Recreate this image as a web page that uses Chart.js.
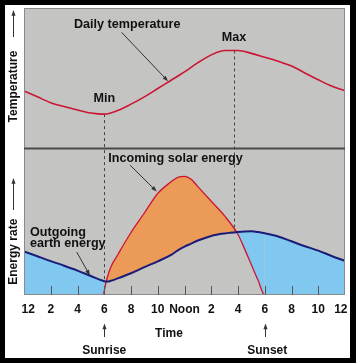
<!DOCTYPE html>
<html><head><meta charset="utf-8">
<script src="https://cdn.jsdelivr.net/npm/chart.js@4.4.1/dist/chart.umd.min.js"></script>
<style>html,body{margin:0;padding:0;background:#fff;}canvas{display:block;}</style>
</head><body>
<canvas id="c" width="356" height="363"></canvas>
<script>
// ---- data ----
const tickHours  = [0, 2, 4, 6, 8, 10, 12, 14, 16, 18, 20, 22, 24];
const tickLabels = ['12','2','4','6','8','10','Noon','2','4','6','8','10','12'];

const tempHours  = [0, 1, 2, 3, 4, 5, 6, 7, 8, 9, 10, 11, 12, 13, 14, 15, 16, 17, 18, 19, 20, 21, 22, 23, 24];
const tempValues = [59, 53, 47, 43, 39.5, 36.5, 35.3, 39, 45.5, 53, 61.5, 70, 78.5, 88, 96, 100.5, 100.5, 97.5, 93.5, 89.5, 84.5, 77.5, 70.5, 64, 59.3];

const energyHours = [0, 1, 2, 3, 4, 5, 5.9, 6.1, 6.25, 6.5, 7, 8, 9, 10, 11, 11.5, 12, 12.5, 13, 14, 15, 16, 16.5, 17, 17.5, 18, 19, 20, 21, 22, 23, 24];
const solarEnergy = [0, 0, 0, 0, 0, 0, 0, 11, 19, 29, 41, 64, 84, 104, 116, 120.5, 121.5, 118.5, 111, 96, 81, 62, 47, 31, 15, 0, 0, 0, 0, 0, 0, 0];
const earthEnergy = [44.7, 39.7, 34.7, 30, 25, 19.5, 14.6, 13.9, 13.8, 14.6, 17, 22.3, 28.5, 34.5, 41, 45.8, 49.5, 52.6, 55.8, 60.5, 63, 64.5, 65, 65.2, 64.5, 63.2, 60, 55, 50, 45.5, 40, 35];

const sunriseHour = 6, sunsetHour = 18, minTempHour = 6, maxTempHour = 15.7;
const sunriseEarth = 14, crossEnergy = 65;

// ---- styles ----
const RED = '#cc1533', NAVY = '#1b1b78', ORANGE = '#ec9a58', BLUE = '#80c8f0', PANEL = '#c4c4c3';
const FAMILY = '"Liberation Sans", Arial, Helvetica, sans-serif';
const FONT = 'bold 12px ' + FAMILY;
const LABEL_FONT = 'bold 12.6px ' + FAMILY;

function arrow(ctx, x1, y1, x2, y2, head) {
  head = head || 6;
  const a = Math.atan2(y2 - y1, x2 - x1);
  ctx.save();
  ctx.strokeStyle = '#333'; ctx.fillStyle = '#333'; ctx.lineWidth = 1;
  ctx.beginPath(); ctx.moveTo(x1, y1); ctx.lineTo(x2 - Math.cos(a) * head * 0.8, y2 - Math.sin(a) * head * 0.8); ctx.stroke();
  ctx.beginPath();
  ctx.moveTo(x2, y2);
  ctx.lineTo(x2 - head * Math.cos(a - 0.35), y2 - head * Math.sin(a - 0.35));
  ctx.lineTo(x2 - head * Math.cos(a + 0.35), y2 - head * Math.sin(a + 0.35));
  ctx.closePath(); ctx.fill();
  ctx.restore();
}

const decor = {
  id: 'decor',
  beforeDraw(chart) {
    const {ctx, chartArea: a} = chart;
    ctx.save();
    ctx.fillStyle = '#fff'; ctx.fillRect(0, 0, chart.width, chart.height);
    ctx.fillStyle = PANEL; ctx.fillRect(a.left, a.top, a.right - a.left, a.bottom - a.top);
    ctx.restore();
  },
  afterDatasetsDraw(chart) {
    const {ctx, chartArea: a, scales} = chart;
    const X = v => scales.x.getPixelForValue(v);
    const YT = v => scales.yT.getPixelForValue(v);
    const YE = v => scales.yE.getPixelForValue(v);
    ctx.save();
    // panel edge
    ctx.strokeStyle = '#8a8a8a'; ctx.lineWidth = 1;
    ctx.strokeRect(a.left + 0.5, a.top + 0.5, a.right - a.left - 1, a.bottom - a.top - 1);
    // inner ticks on bottom panel
    ctx.strokeStyle = '#555'; ctx.lineWidth = 1;
    tickHours.forEach(h => {
      if (h === 0 || h === 24) return;
      const x = Math.round(X(h)) + 0.5;
      ctx.beginPath(); ctx.moveTo(x, a.bottom); ctx.lineTo(x, a.bottom - 9); ctx.stroke();
    });
    // divider between panels
    ctx.strokeStyle = '#4a4a4a'; ctx.lineWidth = 2;
    ctx.beginPath(); ctx.moveTo(a.left, scales.yT.bottom); ctx.lineTo(a.right, scales.yT.bottom); ctx.stroke();
    // dashed guides
    ctx.strokeStyle = '#444'; ctx.lineWidth = 1; ctx.setLineDash([3, 3]);
    const minT = Math.min(...tempValues), maxT = Math.max(...tempValues);
    let x = Math.round(X(minTempHour)) + 0.5;
    ctx.beginPath(); ctx.moveTo(x, YT(minT)); ctx.lineTo(x, YE(sunriseEarth)); ctx.stroke();
    x = Math.round(X(maxTempHour)) + 0.5;
    ctx.beginPath(); ctx.moveTo(x, YT(maxT)); ctx.lineTo(x, YE(crossEnergy)); ctx.stroke();
    ctx.setLineDash([]);
    // labels
    ctx.fillStyle = '#111'; ctx.font = LABEL_FONT; ctx.textBaseline = 'alphabetic';
    ctx.textAlign = 'left';
    ctx.fillText('Daily temperature', X(3.74), YT(123.5));
    ctx.fillText('Incoming solar energy', X(6.3), YE(136));
    ctx.fillText('Outgoing', X(0.45), YE(60.3));
    ctx.fillText('earth energy', X(0.45), YE(48.7));
    ctx.textAlign = 'center';
    ctx.fillText('Min', X(minTempHour), YT(48));
    ctx.fillText('Max', X(maxTempHour), YT(110.3));
    arrow(ctx, X(7.3), YT(119), X(10.77), YT(69));
    arrow(ctx, X(7.93), YE(133), X(9.92), YE(106));
    arrow(ctx, X(3.94), YE(44), X(4.93), YE(20));
    // axis titles
    ctx.font = FONT;
    ctx.save(); ctx.translate(14, 86.5); ctx.rotate(-Math.PI / 2);
    ctx.textAlign = 'center'; ctx.textBaseline = 'middle'; ctx.fillText('Temperature', 0, 0); ctx.restore();
    ctx.save(); ctx.translate(14, 251.7); ctx.rotate(-Math.PI / 2);
    ctx.textAlign = 'center'; ctx.textBaseline = 'middle'; ctx.fillText('Energy rate', 0, 0); ctx.restore();
    arrow(ctx, 13.5, 37, 13.5, 10, 6);
    arrow(ctx, 13.5, 210, 13.5, 178, 6);
    // bottom texts
    ctx.textAlign = 'center'; ctx.textBaseline = 'alphabetic';
    ctx.fillText('Time', X(10.84), 336.7);
    ctx.fillText('Sunrise', X(sunriseHour), 354);
    ctx.fillText('Sunset', X(sunsetHour) + 2.5, 354);
    arrow(ctx, Math.round(X(sunriseHour)) + 0.5, 337, Math.round(X(sunriseHour)) + 0.5, 323.5, 6);
    arrow(ctx, Math.round(X(sunsetHour)) + 0.5, 337, Math.round(X(sunsetHour)) + 0.5, 323.5, 6);
    // outer frame
    ctx.fillStyle = '#000';
    ctx.fillRect(0, 0, chart.width, 5);
    ctx.fillRect(0, 0, 5, chart.height);
    ctx.fillRect(0, chart.height - 5, chart.width, 5);
    ctx.fillRect(chart.width - 6, 0, 6, chart.height);
    ctx.restore();
  }
};

const pts = (xs, ys) => xs.map((h, i) => ({x: h, y: ys[i]}));

new Chart(document.getElementById('c'), {
  type: 'line',
  data: {
    datasets: [
      { label: 'Outgoing earth energy', data: pts(energyHours, earthEnergy), yAxisID: 'yE',
        borderColor: NAVY, borderWidth: 2, pointRadius: 0, fill: false, order: 0, cubicInterpolationMode: 'monotone' },
      { label: 'Incoming solar energy', data: pts(energyHours, solarEnergy), yAxisID: 'yE',
        borderColor: RED, borderWidth: 1.3, pointRadius: 0, order: 1, cubicInterpolationMode: 'monotone',
        fill: { target: 0, above: ORANGE, below: BLUE },
        segment: { borderColor: c => (c.p0.parsed.y <= 0 && c.p1.parsed.y <= 0) ? 'rgba(0,0,0,0)' : RED } },
      { label: 'Daily temperature', data: pts(tempHours, tempValues), yAxisID: 'yT',
        borderColor: RED, borderWidth: 1.6, pointRadius: 0, fill: false, order: 2, cubicInterpolationMode: 'monotone' }
    ]
  },
  options: {
    responsive: false, animation: false, devicePixelRatio: 1,
    layout: { padding: { left: 24, right: 11, top: 8, bottom: 39.6 } },
    plugins: { legend: { display: false }, tooltip: { enabled: false } },
    scales: {
      x: { type: 'linear', min: 0, max: 24,
        grid: { display: false, drawTicks: false }, border: { display: false },
        afterFit: s => { s.paddingLeft = 0; s.paddingRight = 0; },
        ticks: { stepSize: 2, autoSkip: false, maxRotation: 0, padding: 7, color: '#111',
          font: { family: FAMILY, size: 12, weight: 'bold' },
          callback: v => {
            const i = tickHours.indexOf(v);
            if (i < 0) return '';
            if (i === 0) return '\u2002\u2009' + tickLabels[i];
            if (i === tickLabels.length - 1) return tickLabels[i] + '\u2002\u2009';
            return tickLabels[i];
          } } },
      yT: { type: 'linear', display: false, min: 0, max: 144, stack: 'panels', stackWeight: 144, weight: 2, position: 'left' },
      yE: { type: 'linear', display: false, min: 0, max: 150, stack: 'panels', stackWeight: 150, weight: 1, position: 'left' }
    }
  },
  plugins: [decor]
});
</script>
</body></html>
